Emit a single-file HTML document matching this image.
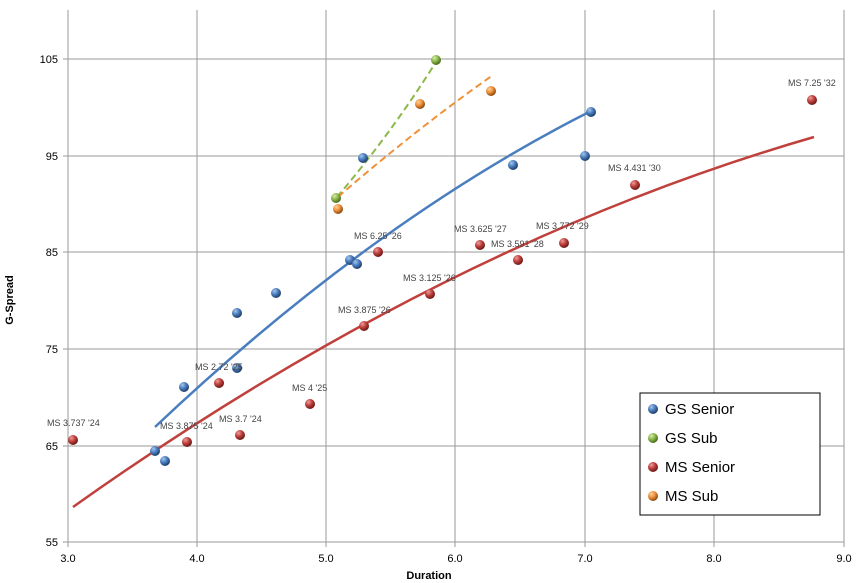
<!DOCTYPE html>
<html><head><style>body{margin:0;background:#fff}svg{display:block;font-family:"Liberation Sans",sans-serif}</style></head><body>
<svg width="859" height="583" viewBox="0 0 859 583">
<defs>
<radialGradient id="gb" cx="35%" cy="30%" r="70%"><stop offset="0" stop-color="#a9c6ea"/><stop offset="0.5" stop-color="#4a7ebf"/><stop offset="1" stop-color="#1f3f6a"/></radialGradient>
<radialGradient id="gr" cx="35%" cy="30%" r="70%"><stop offset="0" stop-color="#eaa0a0"/><stop offset="0.5" stop-color="#c0403c"/><stop offset="1" stop-color="#6a1a18"/></radialGradient>
<radialGradient id="gg" cx="35%" cy="30%" r="70%"><stop offset="0" stop-color="#d6ecb0"/><stop offset="0.5" stop-color="#8cb84a"/><stop offset="1" stop-color="#4a6a1e"/></radialGradient>
<radialGradient id="go" cx="35%" cy="30%" r="70%"><stop offset="0" stop-color="#fbd0a0"/><stop offset="0.5" stop-color="#f0913a"/><stop offset="1" stop-color="#8a4a10"/></radialGradient>
</defs>
<g stroke="#9a9a9a" stroke-width="1">
<line x1="68" y1="10" x2="68" y2="542"/><line x1="197" y1="10" x2="197" y2="542"/><line x1="326" y1="10" x2="326" y2="542"/><line x1="455" y1="10" x2="455" y2="542"/><line x1="585" y1="10" x2="585" y2="542"/><line x1="714" y1="10" x2="714" y2="542"/><line x1="844" y1="10" x2="844" y2="542"/>
<line x1="63" y1="59" x2="844" y2="59"/><line x1="63" y1="156" x2="844" y2="156"/><line x1="63" y1="252" x2="844" y2="252"/><line x1="63" y1="349" x2="844" y2="349"/><line x1="63" y1="446" x2="844" y2="446"/><line x1="63" y1="542" x2="844" y2="542"/>
<line x1="68" y1="542" x2="68" y2="547"/><line x1="197" y1="542" x2="197" y2="547"/><line x1="326" y1="542" x2="326" y2="547"/><line x1="455" y1="542" x2="455" y2="547"/><line x1="585" y1="542" x2="585" y2="547"/><line x1="714" y1="542" x2="714" y2="547"/><line x1="844" y1="542" x2="844" y2="547"/>
</g>
<g font-size="11" fill="#000" text-anchor="end">
<text x="58" y="63">105</text><text x="58" y="160">95</text><text x="58" y="256">85</text><text x="58" y="353">75</text><text x="58" y="450">65</text><text x="58" y="546">55</text>
</g>
<g font-size="11" fill="#000" text-anchor="middle">
<text x="68" y="562">3.0</text><text x="197" y="562">4.0</text><text x="326" y="562">5.0</text><text x="455" y="562">6.0</text><text x="585" y="562">7.0</text><text x="714" y="562">8.0</text><text x="844" y="562">9.0</text>
</g>
<text x="429" y="579" font-size="11" font-weight="bold" text-anchor="middle">Duration</text>
<text transform="translate(13,300) rotate(-90)" font-size="11" font-weight="bold" text-anchor="middle">G-Spread</text>
<path d="M155 427 Q373 221 591 111" fill="none" stroke="#4a7ebf" stroke-width="2.5"/>
<path d="M73 507 Q443 244 814 137" fill="none" stroke="#c0403c" stroke-width="2.5"/>
<path d="M337 197 Q390 135 436 62" fill="none" stroke="#8cb84a" stroke-width="2" stroke-dasharray="7,4"/>
<path d="M338 197 Q415 130 493 75" fill="none" stroke="#f0913a" stroke-width="2" stroke-dasharray="7,4"/>
<g>
<circle cx="155" cy="451" r="5" fill="url(#gb)"/><circle cx="165" cy="461" r="5" fill="url(#gb)"/><circle cx="184" cy="387" r="5" fill="url(#gb)"/><circle cx="237" cy="313" r="5" fill="url(#gb)"/><circle cx="237" cy="368" r="5" fill="url(#gb)"/><circle cx="276" cy="293" r="5" fill="url(#gb)"/><circle cx="350" cy="260" r="5" fill="url(#gb)"/><circle cx="357" cy="264" r="5" fill="url(#gb)"/><circle cx="363" cy="158" r="5" fill="url(#gb)"/><circle cx="513" cy="165" r="5" fill="url(#gb)"/><circle cx="585" cy="156" r="5" fill="url(#gb)"/><circle cx="591" cy="112" r="5" fill="url(#gb)"/>
<circle cx="336" cy="198" r="5" fill="url(#gg)"/><circle cx="436" cy="60" r="5" fill="url(#gg)"/>
<circle cx="338" cy="209" r="5" fill="url(#go)"/><circle cx="420" cy="104" r="5" fill="url(#go)"/><circle cx="491" cy="91" r="5" fill="url(#go)"/>
<circle cx="73" cy="440" r="5" fill="url(#gr)"/><circle cx="187" cy="442" r="5" fill="url(#gr)"/><circle cx="240" cy="435" r="5" fill="url(#gr)"/><circle cx="219" cy="383" r="5" fill="url(#gr)"/><circle cx="310" cy="404" r="5" fill="url(#gr)"/><circle cx="364" cy="326" r="5" fill="url(#gr)"/><circle cx="378" cy="252" r="5" fill="url(#gr)"/><circle cx="430" cy="294" r="5" fill="url(#gr)"/><circle cx="480" cy="245" r="5" fill="url(#gr)"/><circle cx="518" cy="260" r="5" fill="url(#gr)"/><circle cx="564" cy="243" r="5" fill="url(#gr)"/><circle cx="635" cy="185" r="5" fill="url(#gr)"/><circle cx="812" cy="100" r="5" fill="url(#gr)"/>
</g>
<g font-size="9" fill="#444">
<text x="47" y="426">MS 3.737 '24</text><text x="160" y="429">MS 3.875 '24</text><text x="219" y="422">MS 3.7 '24</text><text x="195" y="370">MS 2.72 '25</text><text x="292" y="391">MS 4 '25</text><text x="338" y="313">MS 3.875 '26</text><text x="354" y="239">MS 6.25 '26</text><text x="403" y="281">MS 3.125 '26</text><text x="454" y="232">MS 3.625 '27</text><text x="491" y="247">MS 3.591 '28</text><text x="536" y="229">MS 3.772 '29</text><text x="608" y="171">MS 4.431 '30</text><text x="788" y="86">MS 7.25 '32</text>
</g>
<rect x="640" y="393" width="180" height="122" fill="#fff" stroke="#000" stroke-width="1"/>
<g font-size="15" fill="#000">
<circle cx="653" cy="409" r="5" fill="url(#gb)"/><text x="665" y="414">GS Senior</text>
<circle cx="653" cy="438" r="5" fill="url(#gg)"/><text x="665" y="443">GS Sub</text>
<circle cx="653" cy="467" r="5" fill="url(#gr)"/><text x="665" y="472">MS Senior</text>
<circle cx="653" cy="496" r="5" fill="url(#go)"/><text x="665" y="501">MS Sub</text>
</g>
</svg>
</body></html>
